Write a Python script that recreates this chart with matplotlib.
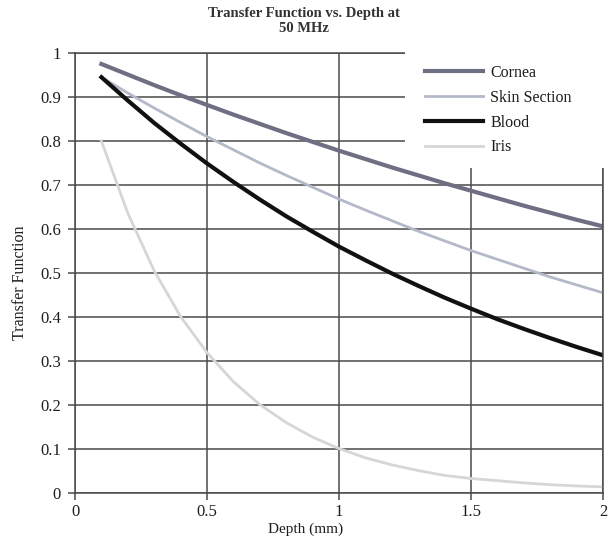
import matplotlib
matplotlib.use("Agg")
import matplotlib.pyplot as plt
from matplotlib.patches import Rectangle

plt.rcParams['font.family'] = ['Liberation Serif', 'DejaVu Serif']

# Depth (mm) at which each transfer function is sampled
depth = [0.1, 0.2, 0.3, 0.4, 0.5, 0.6, 0.7, 0.8, 0.9, 1.0,
         1.1, 1.2, 1.3, 1.4, 1.5, 1.6, 1.7, 1.8, 1.9, 2.0]

cornea = [0.975, 0.951, 0.927, 0.904, 0.882, 0.860, 0.839, 0.818, 0.798, 0.778,
          0.759, 0.740, 0.722, 0.704, 0.687, 0.670, 0.653, 0.637, 0.621, 0.606]
skin = [0.945, 0.909, 0.875, 0.842, 0.810, 0.780, 0.750, 0.722, 0.695, 0.668,
        0.643, 0.619, 0.595, 0.573, 0.551, 0.531, 0.511, 0.491, 0.473, 0.455]
blood = [0.945, 0.892, 0.841, 0.794, 0.749, 0.707, 0.667, 0.629, 0.594, 0.560,
         0.529, 0.499, 0.471, 0.444, 0.419, 0.395, 0.373, 0.352, 0.332, 0.313]
iris = [0.800, 0.636, 0.505, 0.401, 0.319, 0.253, 0.201, 0.160, 0.127, 0.101,
        0.080, 0.064, 0.051, 0.040, 0.033, 0.028, 0.023, 0.019, 0.016, 0.014]

series_names = ["Cornea", "Skin Section", "Blood", "Iris"]
x_ticks = [0, 0.5, 1, 1.5, 2]
x_tick_labels = ["0", "0.5", "1", "1.5", "2"]
y_ticks = [0, 0.1, 0.2, 0.3, 0.4, 0.5, 0.6, 0.7, 0.8, 0.9, 1]
y_tick_labels = ["0", "0.1", "0.2", "0.3", "0.4", "0.5", "0.6", "0.7", "0.8", "0.9", "1"]

W, H = 608, 537
fig = plt.figure(figsize=(W / 100, H / 100), dpi=100)
ax = fig.add_axes([75 / W, 1 - 493 / H, 528 / W, 440 / H])

grid_c = "#4a4a4a"
ax.set_xlim(0, 2)
ax.set_ylim(0, 1)
ax.set_xticks(x_ticks)
ax.set_xticklabels(x_tick_labels)
ax.set_yticks(y_ticks)
ax.set_yticklabels(y_tick_labels)
ax.grid(True, color=grid_c, linewidth=1.1)
ax.set_axisbelow(True)
for s in ax.spines.values():
    s.set_color(grid_c)
    s.set_linewidth(1.1)
ax.tick_params(direction="out", length=5, width=1.1, color=grid_c,
               labelsize=12, labelcolor="#1e1e1e", pad=5)
ax.tick_params(axis="x", pad=3)

ax.plot(depth, cornea, color="#6f6f84", linewidth=3.0, label=series_names[0])
ax.plot(depth, skin, color="#b4b9c9", linewidth=2.0, label=series_names[1])
ax.plot(depth, blood, color="#111111", linewidth=3.0, label=series_names[2])
ax.plot(depth, iris, color="#d6d6d6", linewidth=2.0, label=series_names[3])

# White panel behind the legend in the upper right corner
fig.add_artist(Rectangle((405 / W, 1 - 168 / H), 203 / W, 118 / H,
                         transform=fig.transFigure, facecolor="white",
                         edgecolor="none", zorder=5))
handles, labels = ax.get_legend_handles_labels()
leg = fig.legend(handles, labels, loc="upper left",
                 bbox_to_anchor=(425 / W, 1 - 65 / H), frameon=False,
                 fontsize=11.5, handlelength=3.6, handletextpad=0.5,
                 labelspacing=0.55, borderpad=0, borderaxespad=0)
leg.set_zorder(10)
for t in leg.get_texts():
    t.set_color("#1e1e1e")

fig.text(304 / W, 1 - 21 / H, "Transfer Function vs. Depth at\n50 MHz",
         ha="center", va="center", fontsize=10.5, fontweight="bold",
         color="#333333", linespacing=1.15)
fig.text(306 / W, 1 - 529 / H, "Depth (mm)", ha="center", va="center",
         fontsize=11, color="#1e1e1e")
fig.text(20 / W, 1 - 283 / H, "Transfer Function", ha="center", va="center",
         rotation=90, fontsize=11.5, color="#1e1e1e")

fig.savefig("out.png", dpi=100, facecolor="white")
